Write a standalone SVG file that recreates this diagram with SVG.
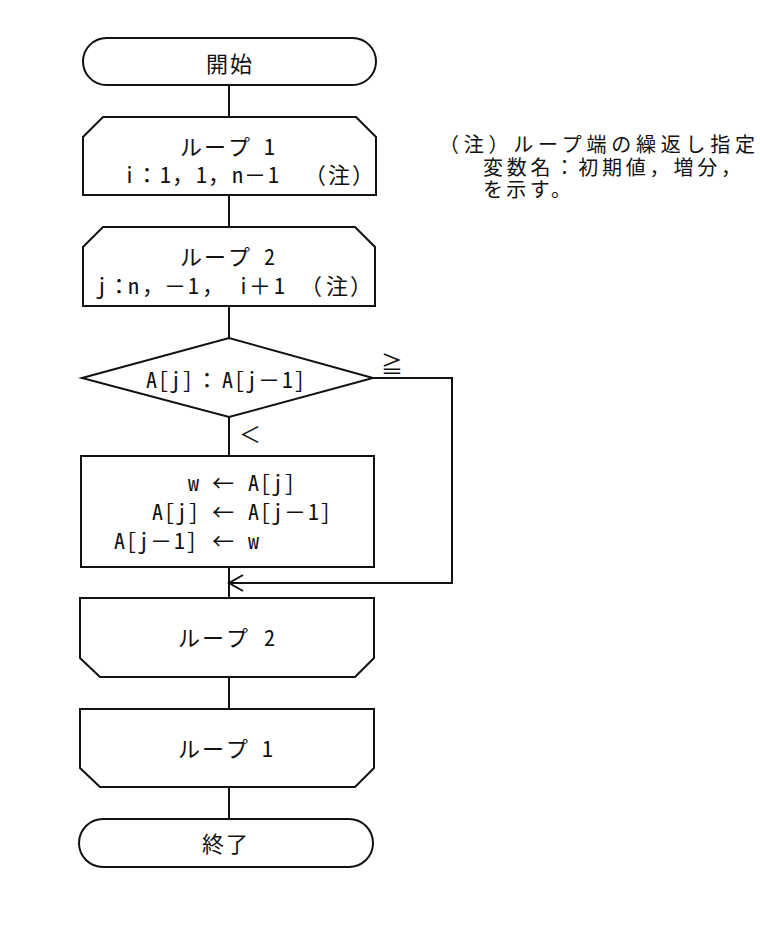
<svg xmlns="http://www.w3.org/2000/svg" width="760" height="950" viewBox="0 0 760 950">
<style>
.s{fill:#fff;stroke:#111;stroke-width:2}
.c{fill:none;stroke:#111;stroke-width:2}
text{font-family:"Noto Sans Mono CJK JP","Noto Sans CJK JP",sans-serif;fill:#111;font-size:22px}
.n{font-family:"Noto Sans CJK JP",sans-serif;font-size:20px}
</style>
<rect width="760" height="950" fill="#fff"/>
<g id="connectors">
<path class="c" d="M229 85V117M229 195V227M229 306V338M229 417V456M229 567V598M229 677V709M229 787V819"/>
<path class="c" d="M373 378H452V583H229"/>
<path class="c" d="M243 575L229 583L243 591"/>
<text x="392" y="372" text-anchor="middle" font-size="24">≧</text>
<text x="250" y="442" text-anchor="middle" font-size="29">＜</text>
</g>
<g id="start">
<rect class="s" x="83" y="38" width="293" height="47" rx="23.5"/>
<text x="206 230" y="72" font-size="24">開始</text>
</g>
<g id="loop1-start">
<polygon class="s" points="83,195 83,137 103,117 356,117 376,137 376,195"/>
<text x="180 204 228 264" y="155" font-size="24">ループ1</text>
<text x="124 136 160 172 196 208 232 244 268 304 328 352" y="183">i：1，1，n－1（注）</text>
</g>
<g id="loop2-start">
<polygon class="s" points="83,306 83,247 103,227 355,227 375,247 375,306"/>
<text x="180 204 228 264" y="265" font-size="24">ループ2</text>
<text x="96 108 128 142 164 188 202 238 249 274 300 326 350" y="294">j：n，－1，i＋1（注）</text>
</g>
<g id="decision">
<polygon class="s" points="82,378 229,338 373,378 229,417"/>
<text x="146 158 170 182 196 222 234 246 258 282 294" y="388">A[j]：A[j－1]</text>
</g>
<g id="swap">
<rect class="s" x="81" y="456" width="293" height="111"/>
<text x="188 212 248 260 272 284" y="491">w←A[j]</text>
<text x="152 164 176 188 212 248 260 272 284 308 320" y="520">A[j]←A[j－1]</text>
<text x="114 126 138 150 174 186 212 248" y="549">A[j－1]←w</text>
</g>
<g id="loop2-end">
<polygon class="s" points="80,598 374,598 374,658 355,677 100,677 80,658"/>
<text x="178 202 226 264" y="646" font-size="24">ループ2</text>
</g>
<g id="loop1-end">
<polygon class="s" points="80,709 374,709 374,768 355,787 100,787 80,768"/>
<text x="178 202 226 262" y="757" font-size="24">ループ1</text>
</g>
<g id="end">
<rect class="s" x="79" y="819" width="294" height="48" rx="24"/>
<text x="202 226" y="852" font-size="24">終了</text>
</g>
<g id="note">
<text class="n" x="439" y="152" textLength="316" lengthAdjust="spacing">（注）ループ端の繰返し指定</text>
<text class="n" x="483" y="175" textLength="258" lengthAdjust="spacing">変数名：初期値，増分，</text>
<text class="n" x="483" y="197" textLength="88" lengthAdjust="spacing">を示す。</text>
</g>
</svg>
